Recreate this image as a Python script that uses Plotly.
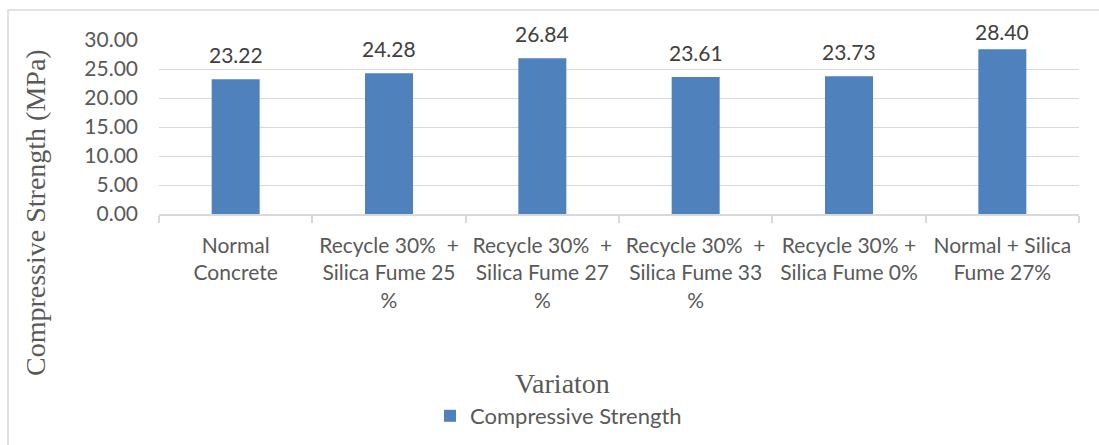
import plotly.graph_objects as go

categories = [
    "Normal<br>Concrete",
    "Recycle 30%  +<br>Silica Fume 25<br>%",
    "Recycle 30%  +<br>Silica Fume 27<br>%",
    "Recycle 30%  +<br>Silica Fume 33<br>%",
    "Recycle 30% +<br>Silica Fume 0%",
    "Normal + Silica<br>Fume 27%",
]
strength = [23.22, 24.28, 26.84, 23.61, 23.73, 28.40]
series_name = "Compressive Strength"
y_ticks = [0, 5, 10, 15, 20, 25, 30]

W, H = 1099, 445
L, R, T, B = 159, 1079, 40, 214
pw, ph = R - L, B - T
YMAX = 30

def px(x):
    return (x - L) / pw

def py(y):
    return (B - y) / ph

sans = "Lato, Open Sans, sans-serif"
serif = "Liberation Serif, Times New Roman, serif"

fig = go.Figure()
fig.add_trace(go.Bar(
    x=categories, y=strength, name=series_name,
    marker=dict(color="#4f81bd", line=dict(width=0)),
    showlegend=True, hoverinfo="x+y",
))

# data labels: ~25px above bar top, kept inside the chart area
label_ann = []
for c, v in zip(categories, strength):
    top_px = B - v * ph / YMAX
    shift = 25
    if top_px - shift < 32:
        shift = top_px - 32
    label_ann.append(dict(
        x=c, y=v, xref="x", yref="y", text=f"{v:.2f}", showarrow=False,
        xanchor="center", yanchor="middle", yshift=shift,
        font=dict(family=sans, size=21, color="#404040"),
    ))

fig.update_layout(
    width=W, height=H,
    margin=dict(l=L, r=W - R, t=T, b=H - B, autoexpand=False),
    paper_bgcolor="white", plot_bgcolor="white",
    bargap=0.687,
    xaxis=dict(
        type="category", tickson="boundaries", ticks="outside", ticklen=7,
        tickcolor="#d9d9d9", tickwidth=1.5, showline=True, linecolor="#d9d9d9",
        linewidth=1.5, showgrid=False, ticklabelstandoff=12,
        tickfont=dict(family=sans, size=21, color="#595959"),
    ),
    yaxis=dict(
        range=[0, YMAX], tickvals=y_ticks, ticktext=[f"{v:.2f}" for v in y_ticks],
        showgrid=True, gridcolor="#d9d9d9", gridwidth=1, zeroline=False,
        showline=False, ticks="", ticklabelstandoff=20,
        tickfont=dict(family=sans, size=21, color="#595959"),
    ),
    legend=dict(
        orientation="h", x=px(430), xanchor="left", y=py(416), yanchor="middle",
        font=dict(family=sans, size=22, color="#595959"),
        bgcolor="rgba(0,0,0,0)",
    ),
    annotations=label_ann + [
        dict(text="Compressive Strength (MPa)", textangle=-90, xref="paper", yref="paper",
             x=px(35), y=py(213), showarrow=False, xanchor="center", yanchor="middle",
             font=dict(family=serif, size=28, color="#595959")),
        dict(text="Variaton", xref="paper", yref="paper",
             x=px(562), y=py(383), showarrow=False, xanchor="center", yanchor="middle",
             font=dict(family=serif, size=28, color="#595959")),
    ],
    shapes=[
        dict(type="rect", xref="paper", yref="paper",
             x0=px(8), x1=px(1110), y0=py(460), y1=py(10),
             line=dict(color="#d9d9d9", width=1.5), fillcolor="rgba(0,0,0,0)", layer="below"),
    ],
)

fig.write_html("out.html")
